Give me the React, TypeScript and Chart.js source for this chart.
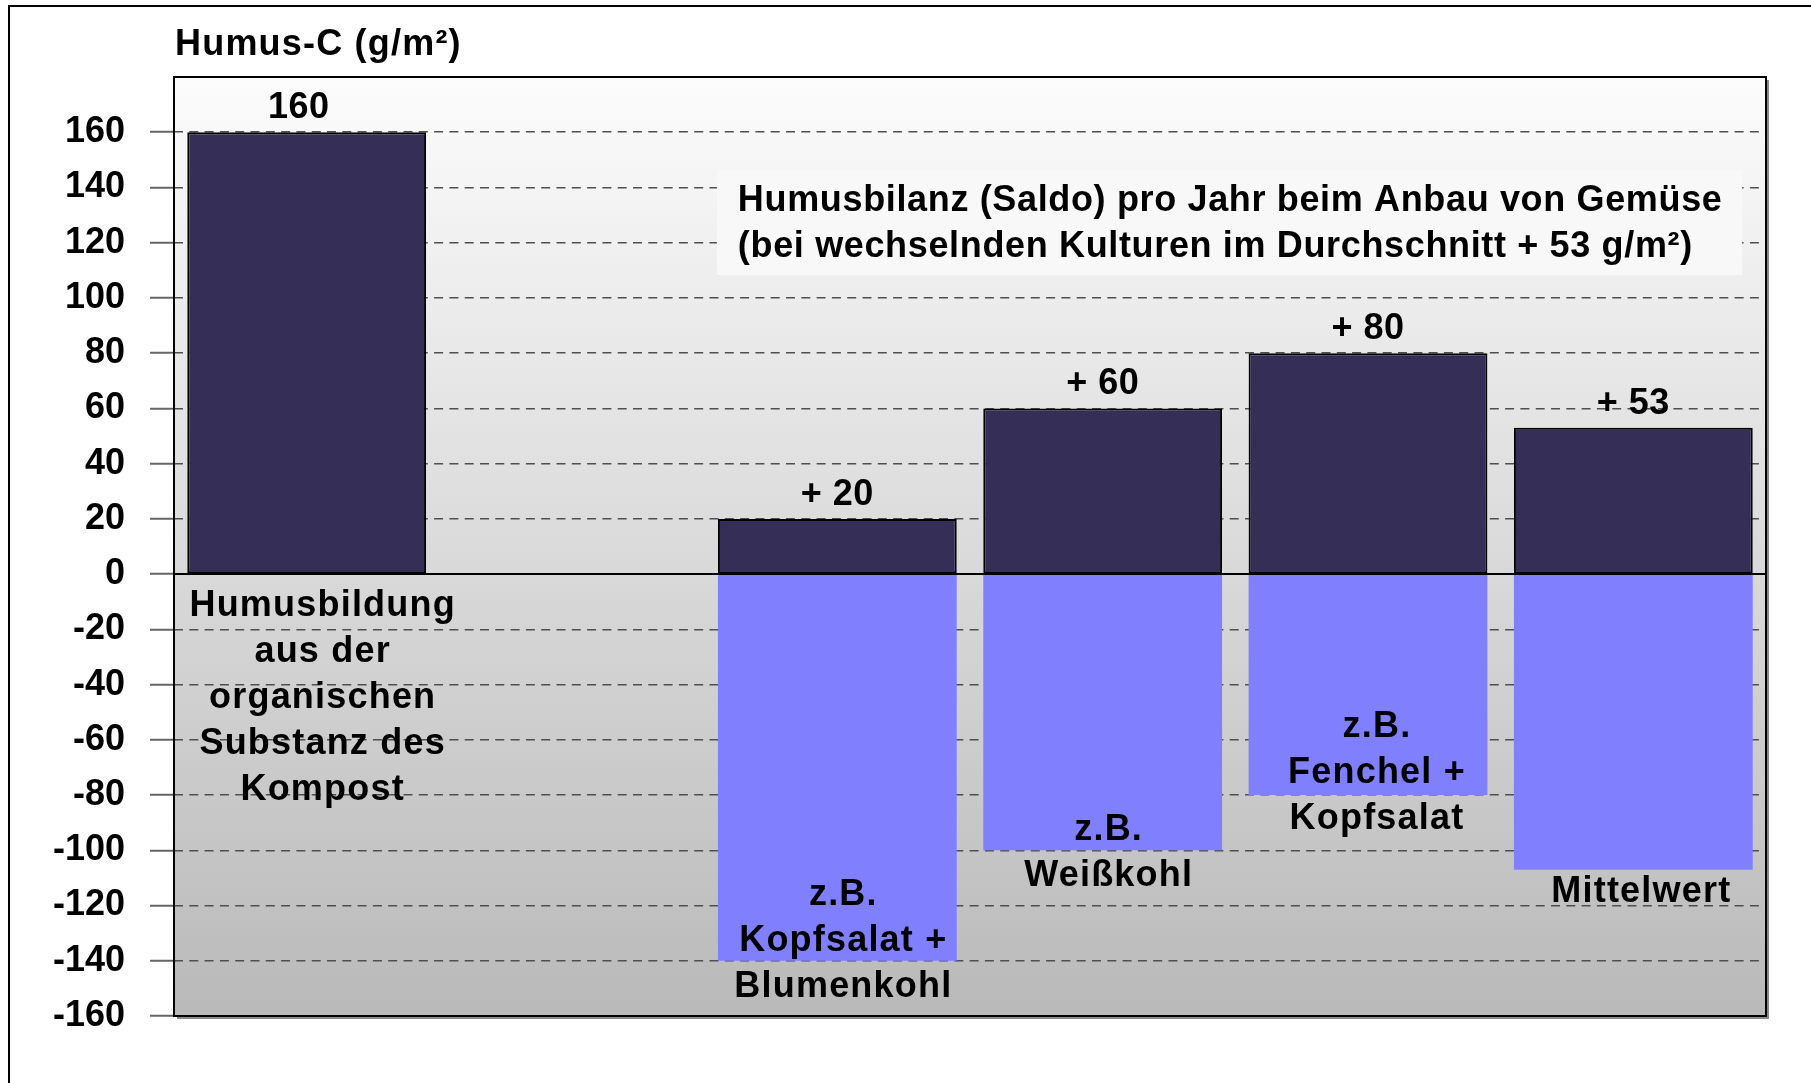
import React, { useEffect, useRef } from 'react';
import { Chart, registerables } from 'chart.js';

Chart.register(...registerables);

// ---------- data ----------
const categories = [
  'Humusbildung aus der organischen Substanz des Kompost',
  '',
  'z.B. Kopfsalat + Blumenkohl',
  'z.B. Weißkohl',
  'z.B. Fenchel + Kopfsalat',
  'Mittelwert',
];
const gainValues = [160, null, 20, 60, 80, 53];
const lossValues = [null, null, -140, -100, -80, -107];
const gainLabels = ['160', '', '+ 20', '+ 60', '+ 80', '+ 53'];
const categoryLines = [
  ['Humusbildung', 'aus der', 'organischen', 'Substanz des', 'Kompost'],
  [],
  ['z.B.', 'Kopfsalat +', 'Blumenkohl'],
  ['z.B.', 'Weißkohl'],
  ['z.B.', 'Fenchel +', 'Kopfsalat'],
  ['Mittelwert'],
];
// value (in axis units) at which each category text block is centred
const categoryLabelCenters = [-45, null, -133, -101, -72, -115];
const yMin = -160;
const yMax = 180;
const yStep = 20;
const yTickLabelMax = 160;
const axisTitle = 'Humus-C (g/m²)';
const noteLines = [
  'Humusbilanz (Saldo) pro Jahr beim Anbau von Gemüse',
  '(bei wechselnden Kulturen im Durchschnitt + 53 g/m²)',
];

// ---------- styling ----------
const FAMILY = '"Liberation Sans", Arial, Helvetica, sans-serif';
const FONT = `bold 36px ${FAMILY}`;
const LINE_H = 46;
const LABEL_DX = [16, 0, 6, 6, 9, 8];
const GAIN_DX = [-8, 0, 0, 0, 0, 0];

const decorPlugin = {
  id: 'decor',
  beforeDraw(chart: any) {
    const { ctx, chartArea: a } = chart;
    const w = a.right - a.left;
    const h = a.bottom - a.top;
    ctx.save();
    ctx.fillStyle = '#8a8a8a';
    ctx.fillRect(a.left + 3, a.top + 3, w, h);
    const g = ctx.createLinearGradient(0, a.top, 0, a.bottom);
    g.addColorStop(0, '#fcfcfc');
    g.addColorStop(1, '#b9b9b9');
    ctx.fillStyle = g;
    ctx.fillRect(a.left, a.top, w, h);
    ctx.font = FONT;
    (ctx as any).letterSpacing = '1.2px';
    ctx.fillStyle = '#000';
    ctx.textAlign = 'left';
    ctx.textBaseline = 'middle';
    ctx.fillText(axisTitle, a.left + 1, 45);
    ctx.restore();
  },
  beforeDatasetsDraw(chart: any) {
    const { ctx, chartArea: a } = chart;
    const w = a.right - a.left;
    const h = a.bottom - a.top;
    const bx = a.left + 0.341 * w;
    const by = a.top + 0.1 * h;
    const bw = 0.644 * w;
    const bh = 0.111 * h;
    ctx.save();
    ctx.fillStyle = '#f8f8f8';
    ctx.fillRect(bx, by, bw, bh);
    ctx.font = FONT;
    (ctx as any).letterSpacing = '0.65px';
    ctx.fillStyle = '#000';
    ctx.textAlign = 'left';
    ctx.textBaseline = 'middle';
    noteLines.forEach((t, i) => {
      ctx.fillText(t, bx + 21, by + 30 + i * LINE_H);
    });
    ctx.restore();
  },
  afterDatasetsDraw(chart: any) {
    const { ctx, chartArea: a, scales } = chart;
    const ys = scales.y;
    const y0 = ys.getPixelForValue(0);
    ctx.save();
    // zero line
    ctx.strokeStyle = '#000';
    ctx.lineWidth = 2;
    ctx.beginPath();
    ctx.moveTo(a.left, y0);
    ctx.lineTo(a.right, y0);
    ctx.stroke();
    // plot border
    ctx.strokeRect(a.left, a.top, a.right - a.left, a.bottom - a.top);

    ctx.font = FONT;
    ctx.fillStyle = '#000';
    ctx.textAlign = 'center';
    ctx.textBaseline = 'middle';
    const meta = chart.getDatasetMeta(0);
    // value labels above bars
    (ctx as any).letterSpacing = '0.5px';
    gainLabels.forEach((lab, i) => {
      const el = meta.data[i];
      if (!lab || !el || gainValues[i] == null) return;
      ctx.fillText(lab, el.x + GAIN_DX[i], el.y - 24);
    });
    // category text blocks
    (ctx as any).letterSpacing = '1.2px';
    categoryLines.forEach((lines, i) => {
      const c = categoryLabelCenters[i];
      const el = meta.data[i];
      if (c == null || !el || !lines.length) return;
      const cy = ys.getPixelForValue(c);
      const x = el.x + LABEL_DX[i];
      lines.forEach((t, j) => {
        ctx.fillText(t, x, cy + (j - (lines.length - 1) / 2) * LINE_H);
      });
    });
    ctx.restore();
  },
};

export default function App() {
  const ref = useRef<HTMLCanvasElement | null>(null);

  useEffect(() => {
    if (!ref.current) return;
    const chart = new Chart(ref.current, {
      type: 'bar',
      data: {
        labels: categories,
        datasets: [
          {
            label: 'Humusbildung',
            data: gainValues as any,
            backgroundColor: '#352e56',
            borderColor: '#000',
            borderWidth: 2,
            borderSkipped: false,
            barPercentage: 0.9,
            categoryPercentage: 1.0,
          },
          {
            label: 'Humusabbau',
            data: lossValues as any,
            backgroundColor: '#8080ff',
            borderWidth: 0,
            barPercentage: 0.9,
            categoryPercentage: 1.0,
          },
        ],
      },
      options: {
        responsive: false,
        animation: false,
        devicePixelRatio: 1,
        layout: { padding: { left: 0, top: 77, right: 45, bottom: 67 } },
        plugins: {
          legend: { display: false },
          title: { display: false },
          tooltip: { enabled: false },
        },
        scales: {
          x: {
            stacked: true,
            display: false,
          },
          y: {
            stacked: true,
            min: yMin,
            max: yMax,
            afterFit: (scale: any) => {
              scale.width = 174;
            },
            ticks: {
              stepSize: yStep,
              padding: 25,
              color: '#000',
              font: { family: FAMILY, size: 36, weight: 'bold' },
              callback: (v: any) => (Number(v) > yTickLabelMax ? '' : String(v)),
            },
            grid: {
              color: (c: any) => (c.tick && c.tick.value > yTickLabelMax ? 'rgba(0,0,0,0)' : '#4f4f4f'),
              lineWidth: 1.5,
              drawTicks: true,
              tickLength: 24,
              tickWidth: 2,
              tickColor: (c: any) => (c.tick && c.tick.value > yTickLabelMax ? 'rgba(0,0,0,0)' : '#666'),
              tickBorderDash: [],
              borderDash: [9, 6.3],
            } as any,
            border: { display: false, dash: [9, 6.3] } as any,
          },
        },
      } as any,
      plugins: [decorPlugin],
    });
    return () => chart.destroy();
  }, []);

  return (
    <div
      style={{
        position: 'fixed',
        left: 0,
        top: 0,
        width: 1811,
        height: 1083,
        background: '#fff',
        overflow: 'hidden',
      }}
    >
      <div
        style={{
          position: 'absolute',
          left: 8,
          top: 5,
          width: 1900,
          height: 1200,
          border: '2px solid #000',
          boxSizing: 'border-box',
        }}
      />
      <canvas
        ref={ref}
        width={1811}
        height={1083}
        style={{ position: 'absolute', left: 0, top: 0, width: 1811, height: 1083 }}
      />
    </div>
  );
}
